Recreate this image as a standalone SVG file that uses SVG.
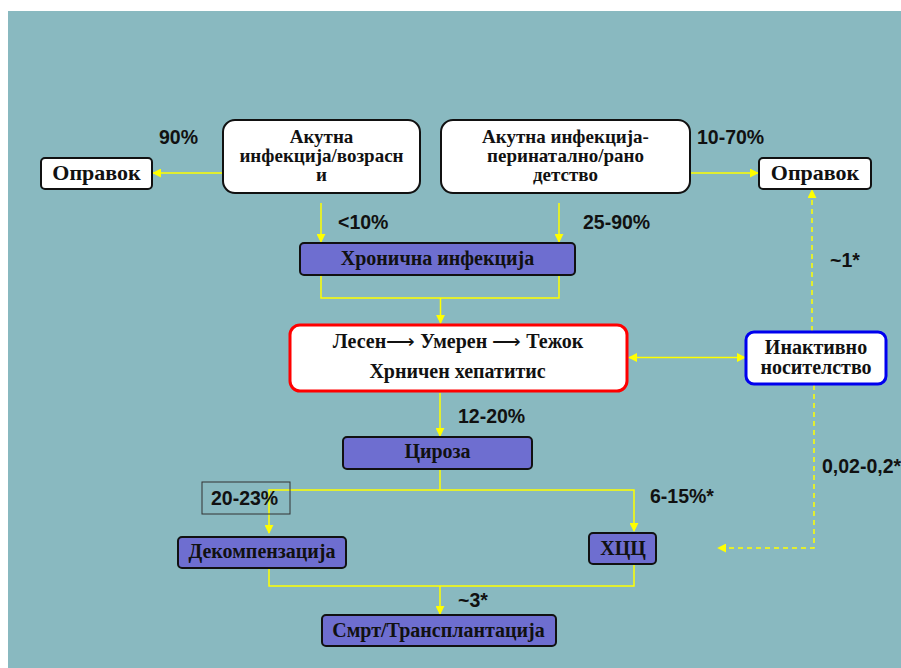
<svg xmlns="http://www.w3.org/2000/svg" width="901" height="668" viewBox="0 0 901 668">
<defs>
<style>
.bg{fill:#89B9C0}
.wbox{fill:#fff;stroke:#111;stroke-width:2}
.pbox{fill:#6E6ED0;stroke:#111;stroke-width:2}
.t{font-family:"Liberation Serif","Times New Roman",serif;font-weight:bold;font-size:20px;fill:#111;text-anchor:middle}
.s{font-size:19px}
.p{font-family:"Liberation Sans",Arial,sans-serif;font-weight:bold;font-size:19.5px;fill:#111}
.ln{fill:none;stroke:#FFFF00;stroke-width:1.5}
.dl{fill:none;stroke:#FFFF00;stroke-width:1.5;stroke-dasharray:5,4}
</style>
<marker id="ah" viewBox="0 0 10 10" refX="9" refY="5" markerWidth="9" markerHeight="9" markerUnits="userSpaceOnUse" orient="auto-start-reverse">
<path d="M0,0 L10,5 L0,10 z" fill="#FFFF00"/>
</marker>
</defs>
<rect class="bg" x="8" y="11" width="893" height="657"/>

<g id="connectors">
<line class="ln" x1="223" y1="173" x2="153" y2="173" marker-end="url(#ah)"/>
<line class="ln" x1="686" y1="173" x2="758" y2="173" marker-end="url(#ah)"/>
<line class="ln" x1="321" y1="203" x2="321" y2="242" marker-end="url(#ah)"/>
<line class="ln" x1="559" y1="203" x2="559" y2="242" marker-end="url(#ah)"/>
<polyline class="ln" points="321,276 321,298 559,298 559,276"/>
<line class="ln" x1="440.5" y1="298" x2="440.5" y2="323" marker-end="url(#ah)"/>
<line class="ln" x1="629" y1="357.5" x2="745" y2="357.5" marker-start="url(#ah)" marker-end="url(#ah)"/>
<line class="ln" x1="440" y1="393" x2="440" y2="436" marker-end="url(#ah)"/>
<line class="ln" x1="440" y1="469" x2="440" y2="490"/>
<polyline class="ln" points="269,533 269,490 634,490 634,531" marker-start="url(#ah)" marker-end="url(#ah)"/>
<polyline class="ln" points="269,568 269,586 634,586 634,565"/>
<line class="ln" x1="440" y1="586" x2="440" y2="614" marker-end="url(#ah)"/>
<line class="dl" x1="812" y1="331" x2="812" y2="190" marker-end="url(#ah)"/>
<polyline class="dl" points="814,385 814,548 718,548" marker-end="url(#ah)"/>
</g>

<g id="n-recovery-left">
<rect class="wbox" x="41" y="158" width="111" height="31" rx="4"/>
<text class="t" x="96.5" y="180" style="font-size:22px">Оправок</text>
</g>
<g id="n-acute-adult">
<rect class="wbox" x="223" y="120" width="197" height="73" rx="12"/>
<text class="t s" x="321.5" y="143">Акутна</text>
<text class="t s" x="321.5" y="162">инфекција/возрасн</text>
<text class="t s" x="321.5" y="181">и</text>
</g>
<g id="n-acute-child">
<rect class="wbox" x="441" y="120" width="249" height="73" rx="12"/>
<text class="t s" x="565.5" y="143">Акутна инфекција-</text>
<text class="t s" x="565.5" y="162">перинатално/рано</text>
<text class="t s" x="565.5" y="181">детство</text>
</g>
<g id="n-recovery-right">
<rect class="wbox" x="759" y="158" width="112" height="31" rx="4"/>
<text class="t" x="815" y="180" style="font-size:22px">Оправок</text>
</g>
<g id="n-chronic">
<rect class="pbox" x="300" y="243" width="275" height="32" rx="4"/>
<text class="t" x="437.5" y="265">Хронична инфекција</text>
</g>
<g id="n-hepatitis">
<rect x="290" y="325" width="337" height="66" rx="10" fill="#fff" stroke="#FF0000" stroke-width="3"/>
<text class="t" x="458" y="348">Лесен<tspan font-weight="normal">⟶</tspan> Умерен <tspan font-weight="normal">⟶</tspan> Тежок</text>
<text class="t" x="457.5" y="378">Хрничен хепатитис</text>
</g>
<g id="n-inactive">
<rect x="746" y="332" width="140" height="52" rx="8" fill="#fff" stroke="#0000EE" stroke-width="3"/>
<text class="t" x="816" y="354">Инактивно</text>
<text class="t" x="816" y="374">носителство</text>
</g>
<g id="n-cirrhosis">
<rect class="pbox" x="343" y="437" width="189" height="32" rx="4"/>
<text class="t" x="437.5" y="458">Цироза</text>
</g>
<g id="n-decomp">
<rect class="pbox" x="178" y="537" width="168" height="31" rx="4"/>
<text class="t" x="262" y="558">Декомпензација</text>
</g>
<g id="n-hcc">
<rect class="pbox" x="589" y="533" width="67" height="31" rx="4"/>
<text class="t" x="623" y="555">ХЦЦ</text>
</g>
<g id="n-death">
<rect class="pbox" x="322" y="615" width="234" height="31" rx="4"/>
<text class="t" x="438.5" y="637">Смрт/Трансплантација</text>
</g>

<g id="labels">
<text class="p" x="159" y="144">90%</text>
<text class="p" x="697" y="144">10-70%</text>
<text class="p" x="338" y="229">&lt;10%</text>
<text class="p" x="583" y="229">25-90%</text>
<text class="p" x="830" y="267">~1*</text>
<text class="p" x="458" y="423">12-20%</text>
<text class="p" x="822" y="473">0,02-0,2*</text>
<text class="p" x="650" y="503">6-15%*</text>
<rect x="202" y="482" width="88" height="32" fill="none" stroke="#333" stroke-width="1"/>
<text class="p" x="211" y="505">20-23%</text>
<text class="p" x="458" y="607">~3*</text>
</g>
</svg>
